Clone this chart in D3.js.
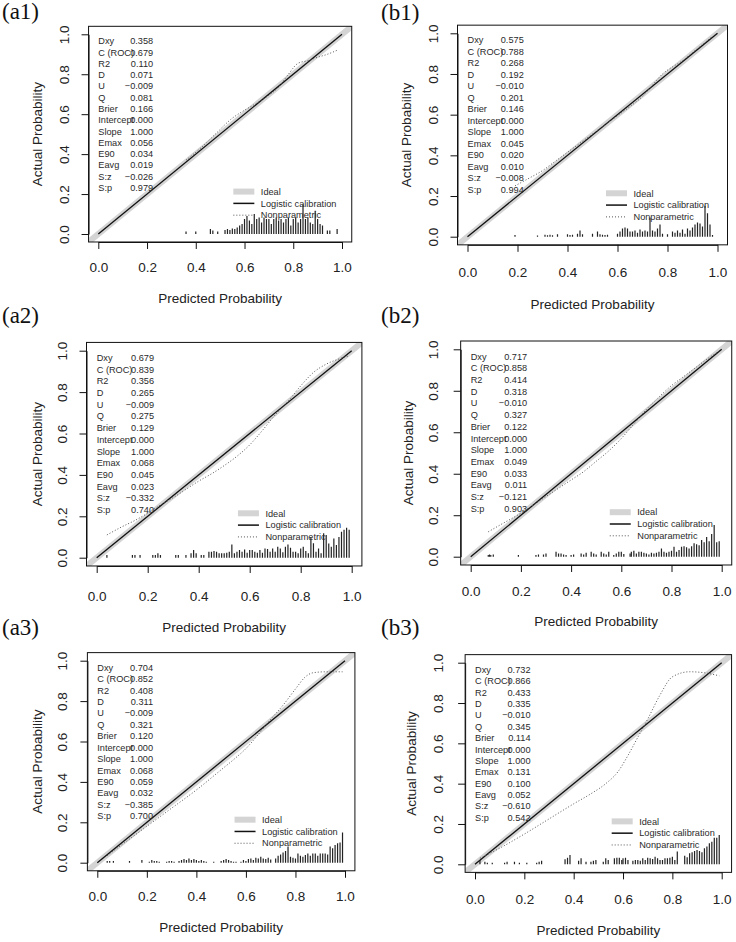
<!DOCTYPE html>
<html><head><meta charset="utf-8">
<script src="https://cdn.jsdelivr.net/npm/d3@7"></script>
<style>body{margin:0;background:#fff;} svg{display:block;}</style>
</head><body>
<svg id="chart" width="736" height="942"></svg>
<script>
// ---------------- DATA ----------------
const panelNames = ["(a1)","(b1)","(a2)","(b2)","(a3)","(b3)"];
const tickValues = [0, 0.2, 0.4, 0.6, 0.8, 1.0];
const tickLabels = ["0.0","0.2","0.4","0.6","0.8","1.0"];
const xTitle = "Predicted Probability";
const yTitle = "Actual Probability";
const legendLabels = ["Ideal","Logistic calibration","Nonparametric"];
const statLabels = ["Dxy","C (ROC)","R2","D","U","Q","Brier","Intercept","Slope","Emax","E90","Eavg","S:z","S:p"];

const statsA1 = [0.358,0.679,0.110,0.071,-0.009,0.081,0.166,0.000,1.000,0.056,0.034,0.019,-0.026,0.979];
const statsB1 = [0.575,0.788,0.268,0.192,-0.010,0.201,0.146,0.000,1.000,0.045,0.020,0.010,-0.008,0.994];
const statsA2 = [0.679,0.839,0.356,0.265,-0.009,0.275,0.129,0.000,1.000,0.068,0.045,0.023,-0.332,0.740];
const statsB2 = [0.717,0.858,0.414,0.318,-0.010,0.327,0.122,0.000,1.000,0.049,0.033,0.011,-0.121,0.903];
const statsA3 = [0.704,0.852,0.408,0.311,-0.009,0.321,0.120,0.000,1.000,0.068,0.059,0.032,-0.385,0.700];
const statsB3 = [0.732,0.866,0.433,0.335,-0.010,0.345,0.114,0.000,1.000,0.131,0.100,0.052,-0.610,0.542];

// logistic calibration (intercept 0, slope 1)
const logisticLine = [[0,0],[1,1]];

// nonparametric (smoothed) calibration curves: [predicted, actual]
const npA1 = [[0.36,0.37],[0.42,0.43],[0.48,0.5],[0.55,0.58],[0.6,0.62],[0.65,0.655],[0.7,0.695],[0.74,0.735],[0.78,0.8],[0.82,0.855],[0.86,0.868],[0.9,0.885],[0.94,0.9],[0.98,0.92]];
const npB1 = [[0.19,0.25],[0.25,0.29],[0.3,0.325],[0.35,0.37],[0.4,0.415],[0.45,0.46],[0.5,0.505],[0.55,0.55],[0.6,0.595],[0.65,0.64],[0.7,0.69],[0.74,0.745],[0.78,0.8],[0.82,0.835],[0.86,0.865],[0.9,0.905],[0.94,0.945],[0.98,0.985]];
const npA2 = [[0.04,0.11],[0.1,0.15],[0.15,0.18],[0.2,0.215],[0.25,0.255],[0.3,0.29],[0.35,0.33],[0.4,0.37],[0.45,0.405],[0.5,0.445],[0.55,0.49],[0.6,0.545],[0.65,0.615],[0.7,0.69],[0.75,0.755],[0.8,0.83],[0.85,0.895],[0.9,0.935],[0.95,0.96],[0.99,0.975]];
const npB2 = [[0.07,0.12],[0.12,0.155],[0.2,0.21],[0.25,0.25],[0.3,0.29],[0.35,0.33],[0.4,0.37],[0.45,0.41],[0.5,0.46],[0.55,0.51],[0.6,0.57],[0.65,0.64],[0.7,0.71],[0.75,0.77],[0.8,0.825],[0.85,0.87],[0.9,0.915],[0.95,0.96],[0.99,0.99]];
const npA3 = [[0.04,0.035],[0.1,0.09],[0.2,0.18],[0.3,0.27],[0.4,0.36],[0.5,0.46],[0.55,0.51],[0.6,0.565],[0.65,0.635],[0.7,0.71],[0.75,0.78],[0.8,0.86],[0.84,0.92],[0.87,0.94],[0.92,0.945],[0.99,0.945]];
const npB3 = [[0.02,0.03],[0.1,0.08],[0.2,0.15],[0.3,0.225],[0.4,0.3],[0.47,0.35],[0.53,0.4],[0.58,0.46],[0.62,0.54],[0.66,0.63],[0.7,0.72],[0.75,0.84],[0.8,0.93],[0.87,0.955],[0.93,0.95],[0.99,0.935]];

// distribution of predicted probabilities (spike histogram): [predicted, relative height]
const histA1 = [[0.36,0.013],[0.40,0.013],[0.46,0.025],[0.47,0.017],[0.49,0.013],[0.52,0.02],[0.53,0.025],[0.54,0.02],[0.55,0.028],[0.56,0.025],[0.57,0.033],[0.58,0.042],[0.59,0.05],[0.60,0.075],
 [0.61,0.09],[0.62,0.067],[0.63,0.05],[0.64,0.1],[0.65,0.075],[0.66,0.083],[0.67,0.058],[0.68,0.083],[0.69,0.075],[0.70,0.075],[0.71,0.05],[0.72,0.075],[0.73,0.083],[0.74,0.067],[0.75,0.075],[0.76,0.058],[0.77,0.075],[0.78,0.083],[0.79,0.042],[0.80,0.075],[0.81,0.083],[0.82,0.058],[0.83,0.075],[0.84,0.148],[0.85,0.075],[0.86,0.083],[0.87,0.058],[0.88,0.05],[0.89,0.117],[0.90,0.075],[0.91,0.05],[0.92,0.042],[0.94,0.017],[0.95,0.017],[0.98,0.025]];
const histB1 = [[0.19,0.008],[0.28,0.006],[0.31,0.01],[0.32,0.007],[0.33,0.01],[0.34,0.007],[0.36,0.012],[0.40,0.012],[0.41,0.008],[0.42,0.01],[0.44,0.015],[0.45,0.03],[0.46,0.012],[0.50,0.015],[0.52,0.025],[0.53,0.012],[0.54,0.01],[0.55,0.008],[0.56,0.01],[0.60,0.015],[0.61,0.025],[0.62,0.04],[0.63,0.045],[0.64,0.04],[0.65,0.025],[0.66,0.025],[0.67,0.03],[0.68,0.02],[0.69,0.035],[0.70,0.025],[0.71,0.03],[0.72,0.025],[0.73,0.095],[0.74,0.03],[0.75,0.025],[0.76,0.04],[0.77,0.06],[0.78,0.015],[0.80,0.012],[0.82,0.025],[0.83,0.02],[0.84,0.03],[0.85,0.02],[0.86,0.035],[0.87,0.015],[0.88,0.04],[0.89,0.03],[0.90,0.045],[0.91,0.06],[0.92,0.07],[0.93,0.065],[0.94,0.05],[0.95,0.152],[0.96,0.115],[0.97,0.06],[0.98,0.008]];
const histA2 = [[0.04,0.013],[0.14,0.013],[0.15,0.013],[0.17,0.013],[0.22,0.013],[0.23,0.013],[0.24,0.021],[0.25,0.013],[0.31,0.013],[0.32,0.013],[0.35,0.013],[0.37,0.021],[0.38,0.037],[0.39,0.021],[0.41,0.013],[0.42,0.013],[0.44,0.029],[0.45,0.029],[0.46,0.032],[0.47,0.029],[0.48,0.021],[0.49,0.021],[0.50,0.021],[0.51,0.024],[0.52,0.029],[0.53,0.064],[0.54,0.021],[0.55,0.029],[0.56,0.037],[0.57,0.029],[0.58,0.04],[0.59,0.024],[0.60,0.037],[0.61,0.037],[0.62,0.029],[0.63,0.024],[0.64,0.037],[0.65,0.024],[0.66,0.045],[0.67,0.042],[0.68,0.029],[0.69,0.045],[0.70,0.029],[0.71,0.053],[0.72,0.045],[0.73,0.026],[0.74,0.053],[0.75,0.064],[0.76,0.048],[0.77,0.029],[0.78,0.029],[0.79,0.021],[0.80,0.045],[0.81,0.053],[0.82,0.032],[0.83,0.021],[0.84,0.1],[0.85,0.07],[0.86,0.029],[0.87,0.045],[0.88,0.021],[0.89,0.118],[0.90,0.11],[0.91,0.069],[0.92,0.053],[0.93,0.093],[0.94,0.061],[0.95,0.1],[0.96,0.125],[0.97,0.135],[0.98,0.145],[0.99,0.135]];
const histB2 = [[0.07,0.008],[0.075,0.011],[0.08,0.008],[0.09,0.011],[0.19,0.008],[0.26,0.008],[0.27,0.011],[0.29,0.011],[0.30,0.016],[0.34,0.024],[0.35,0.016],[0.36,0.016],[0.37,0.011],[0.38,0.008],[0.40,0.008],[0.41,0.011],[0.44,0.016],[0.45,0.011],[0.46,0.019],[0.48,0.024],[0.49,0.016],[0.50,0.011],[0.52,0.024],[0.53,0.016],[0.54,0.011],[0.55,0.024],[0.57,0.008],[0.58,0.016],[0.59,0.024],[0.60,0.024],[0.61,0.013],[0.635,0.016],[0.64,0.024],[0.65,0.029],[0.66,0.016],[0.67,0.024],[0.68,0.024],[0.69,0.019],[0.70,0.016],[0.71,0.011],[0.72,0.019],[0.73,0.016],[0.74,0.019],[0.75,0.024],[0.76,0.04],[0.77,0.024],[0.78,0.019],[0.79,0.024],[0.80,0.029],[0.81,0.048],[0.82,0.024],[0.83,0.032],[0.84,0.048],[0.85,0.05],[0.86,0.045],[0.87,0.04],[0.88,0.05],[0.89,0.065],[0.90,0.06],[0.91,0.055],[0.92,0.08],[0.93,0.07],[0.94,0.095],[0.95,0.075],[0.96,0.11],[0.97,0.153],[0.98,0.07],[0.99,0.075]];
const histA3 = [[0.04,0.008],[0.05,0.008],[0.065,0.008],[0.13,0.008],[0.18,0.013],[0.21,0.005],[0.22,0.013],[0.23,0.008],[0.24,0.008],[0.25,0.005],[0.28,0.005],[0.29,0.008],[0.30,0.008],[0.31,0.005],[0.33,0.008],[0.34,0.013],[0.35,0.018],[0.36,0.013],[0.37,0.021],[0.38,0.013],[0.39,0.018],[0.40,0.013],[0.41,0.008],[0.42,0.013],[0.43,0.008],[0.44,0.005],[0.47,0.005],[0.50,0.008],[0.51,0.013],[0.52,0.018],[0.53,0.013],[0.54,0.008],[0.55,0.005],[0.56,0.005],[0.58,0.005],[0.59,0.013],[0.60,0.008],[0.61,0.018],[0.62,0.021],[0.63,0.013],[0.64,0.025],[0.65,0.021],[0.66,0.03],[0.67,0.021],[0.68,0.018],[0.69,0.025],[0.70,0.016],[0.72,0.021],[0.73,0.035],[0.74,0.041],[0.75,0.05],[0.76,0.058],[0.77,0.08],[0.78,0.03],[0.79,0.025],[0.80,0.021],[0.81,0.045],[0.82,0.035],[0.83,0.03],[0.84,0.038],[0.85,0.045],[0.86,0.035],[0.87,0.045],[0.88,0.045],[0.89,0.035],[0.90,0.045],[0.91,0.045],[0.92,0.045],[0.93,0.04],[0.94,0.08],[0.95,0.071],[0.96,0.088],[0.97,0.096],[0.98,0.1],[0.99,0.15]];
const histB3 = [[0.02,0.021],[0.04,0.013],[0.05,0.008],[0.07,0.008],[0.12,0.008],[0.13,0.013],[0.16,0.013],[0.18,0.008],[0.21,0.008],[0.25,0.008],[0.26,0.013],[0.27,0.017],[0.365,0.025],[0.375,0.033],[0.385,0.046],[0.42,0.017],[0.43,0.03],[0.45,0.013],[0.47,0.013],[0.48,0.017],[0.49,0.021],[0.52,0.013],[0.53,0.03],[0.54,0.021],[0.565,0.03],[0.575,0.033],[0.585,0.033],[0.595,0.021],[0.60,0.03],[0.61,0.033],[0.62,0.021],[0.64,0.017],[0.65,0.021],[0.66,0.021],[0.67,0.017],[0.68,0.03],[0.69,0.021],[0.70,0.033],[0.71,0.03],[0.72,0.026],[0.73,0.038],[0.74,0.03],[0.75,0.021],[0.76,0.021],[0.77,0.03],[0.78,0.03],[0.79,0.033],[0.80,0.038],[0.81,0.021],[0.82,0.063],[0.85,0.043],[0.86,0.035],[0.87,0.055],[0.88,0.06],[0.89,0.066],[0.90,0.071],[0.91,0.066],[0.92,0.06],[0.93,0.08],[0.94,0.088],[0.95,0.104],[0.96,0.112],[0.97,0.132],[0.98,0.132],[0.99,0.145]];

// ---------------- LAYOUT (pixel positions of data 0 and 1 on each axis) ----------------
const layout = [
  {x0:98.3, x1:342.0, y0:234.0, y1:34.3,  lab:[2,19],   xl:25, xt:56, yl:24.5, yt:51.5},
  {x0:467.5,x1:717.5, y0:236.7, y1:33.3,  lab:[381,20], xl:27, xt:59, yl:24,   yt:51},
  {x0:96.7, x1:351.7, y0:557.7, y1:350.7, lab:[2,323],  xl:30, xt:61, yl:24.5, yt:49.5},
  {x0:470.7,x1:721.7, y0:556.7, y1:349.3, lab:[381,323],xl:26, xt:56, yl:27,   yt:52.5},
  {x0:97.3, x1:345.0, y0:862.7, y1:660.7, lab:[2,635],  xl:26, xt:56, yl:25,   yt:50},
  {x0:475.0,x1:721.7, y0:864.3, y1:662.7, lab:[381,635],xl:27, xt:58, yl:27,   yt:54}
];

const panels = [
  {stats:statsA1, np:npA1, hist:histA1},
  {stats:statsB1, np:npB1, hist:histB1},
  {stats:statsA2, np:npA2, hist:histA2},
  {stats:statsB2, np:npB2, hist:histB2},
  {stats:statsA3, np:npA3, hist:histA3},
  {stats:statsB3, np:npB3, hist:histB3}
];

// ---------------- DRAW ----------------
const SANS = "'Liberation Sans', Arial, Helvetica, sans-serif";
const SERIF = "'Liberation Serif', 'Times New Roman', serif";
const svg = d3.select("#chart");
svg.append("rect").attr("width",736).attr("height",942).attr("fill","#fff");
const fmt = v => (v < 0 ? "\u2212" : "") + Math.abs(v).toFixed(3);

panels.forEach((p, k) => {
  const L = layout[k];
  const x = d3.scaleLinear().domain([0,1]).range([L.x0, L.x1]);
  const y = d3.scaleLinear().domain([0,1]).range([L.y0, L.y1]);
  const bx0 = x(-0.04), bx1 = x(1.04), by0 = y(1.04), by1 = y(-0.04);
  const g = svg.append("g");

  const clipId = "clip" + k;
  g.append("clipPath").attr("id", clipId).append("rect")
    .attr("x", bx0).attr("y", by0).attr("width", bx1 - bx0).attr("height", by1 - by0);
  const plot = g.append("g").attr("clip-path", `url(#${clipId})`);

  const line = d3.line().x(d => x(d[0])).y(d => y(d[1]));

  // ideal
  plot.append("path").datum([[-0.1,-0.1],[1.1,1.1]]).attr("d", line)
    .attr("stroke", "#d4d4d4").attr("stroke-width", 6).attr("fill", "none");
  // logistic calibration
  plot.append("path").datum(logisticLine).attr("d", line)
    .attr("stroke", "#111").attr("stroke-width", 1.3).attr("fill", "none");
  // nonparametric
  plot.append("path").datum(p.np).attr("d", line.curve(d3.curveMonotoneX))
    .attr("stroke", "#555").attr("stroke-width", 1).attr("stroke-dasharray", "1,2").attr("fill", "none");
  line.curve(d3.curveLinear);

  // spike histogram
  plot.selectAll("line.spike").data(p.hist).enter().append("line")
    .attr("class","spike")
    .attr("x1", d => x(d[0])).attr("x2", d => x(d[0]))
    .attr("y1", y(0)).attr("y2", d => y(d[1]))
    .attr("stroke", "#222").attr("stroke-width", 1.2);

  // stats text
  const st = g.append("g").attr("font-family", SANS).attr("font-size", 9.2).attr("fill", "#2a2a2a");
  statLabels.forEach((lab, i) => {
    const yy = y(0.966 - i * 0.0565);
    st.append("text").attr("x", x(0)).attr("y", yy).attr("dy", "0.35em").text(lab);
    st.append("text").attr("x", x(0.225)).attr("y", yy).attr("dy", "0.35em")
      .attr("text-anchor", "end").text(fmt(p.stats[i]));
  });

  // legend
  const lx = x(0.55), ly = y(0.27);
  const lg = g.append("g").attr("font-family", SANS).attr("font-size", 9.2).attr("fill", "#2a2a2a");
  const styles = [
    {stroke:"#d4d4d4", w:6, dash:null},
    {stroke:"#111", w:1.5, dash:null},
    {stroke:"#555", w:1, dash:"1,2"}
  ];
  legendLabels.forEach((lab, i) => {
    const yy = ly + 11.5 + i * 11.8;
    const s = lg.append("line").attr("x1", lx + 1).attr("x2", lx + 22).attr("y1", yy).attr("y2", yy)
      .attr("stroke", styles[i].stroke).attr("stroke-width", styles[i].w);
    if (styles[i].dash) s.attr("stroke-dasharray", styles[i].dash);
    lg.append("text").attr("x", lx + 28.5).attr("y", yy).attr("dy", "0.35em").text(lab);
  });

  // box
  g.append("rect").attr("x", bx0).attr("y", by0).attr("width", bx1 - bx0).attr("height", by1 - by0)
    .attr("fill", "none").attr("stroke", "#111").attr("stroke-width", 1);

  // axes
  const xa = g.append("g").attr("transform", `translate(0,${by1})`)
    .call(d3.axisBottom(x).tickValues(tickValues).tickFormat((d,i) => tickLabels[i]).tickSize(7).tickSizeOuter(0));
  xa.selectAll("path.domain").attr("stroke", "#111");
  xa.selectAll(".tick line").attr("stroke", "#111");
  xa.selectAll(".tick text").attr("y", L.xl).attr("dy", "0.35em")
    .attr("font-family", SANS).attr("font-size", 13.5).attr("fill", "#222");

  const ya = g.append("g").attr("transform", `translate(${bx0},0)`)
    .call(d3.axisLeft(y).tickValues(tickValues).tickFormat((d,i) => tickLabels[i]).tickSize(7).tickSizeOuter(0));
  ya.selectAll("path.domain").attr("stroke", "#111");
  ya.selectAll(".tick line").attr("stroke", "#111");
  ya.selectAll(".tick text").attr("transform", "rotate(-90)").attr("x", 0).attr("y", -L.yl)
    .attr("dy", "0.35em").attr("text-anchor", "middle")
    .attr("font-family", SANS).attr("font-size", 13.5).attr("fill", "#222");

  // axis titles
  g.append("text").attr("x", (bx0 + bx1) / 2).attr("y", by1 + L.xt).attr("dy", "0.35em")
    .attr("text-anchor", "middle").attr("font-family", SANS).attr("font-size", 13.5).attr("fill", "#222")
    .text(xTitle);
  g.append("text").attr("transform", `translate(${bx0 - L.yt},${(by0 + by1) / 2}) rotate(-90)`)
    .attr("dy", "0.35em").attr("text-anchor", "middle").attr("font-family", SANS)
    .attr("font-size", 13.5).attr("fill", "#222").text(yTitle);

  // panel label
  g.append("text").attr("x", L.lab[0]).attr("y", L.lab[1]).attr("font-family", SERIF)
    .attr("font-size", 23).attr("fill", "#111").text(panelNames[k]);
});
</script>
</body></html>
